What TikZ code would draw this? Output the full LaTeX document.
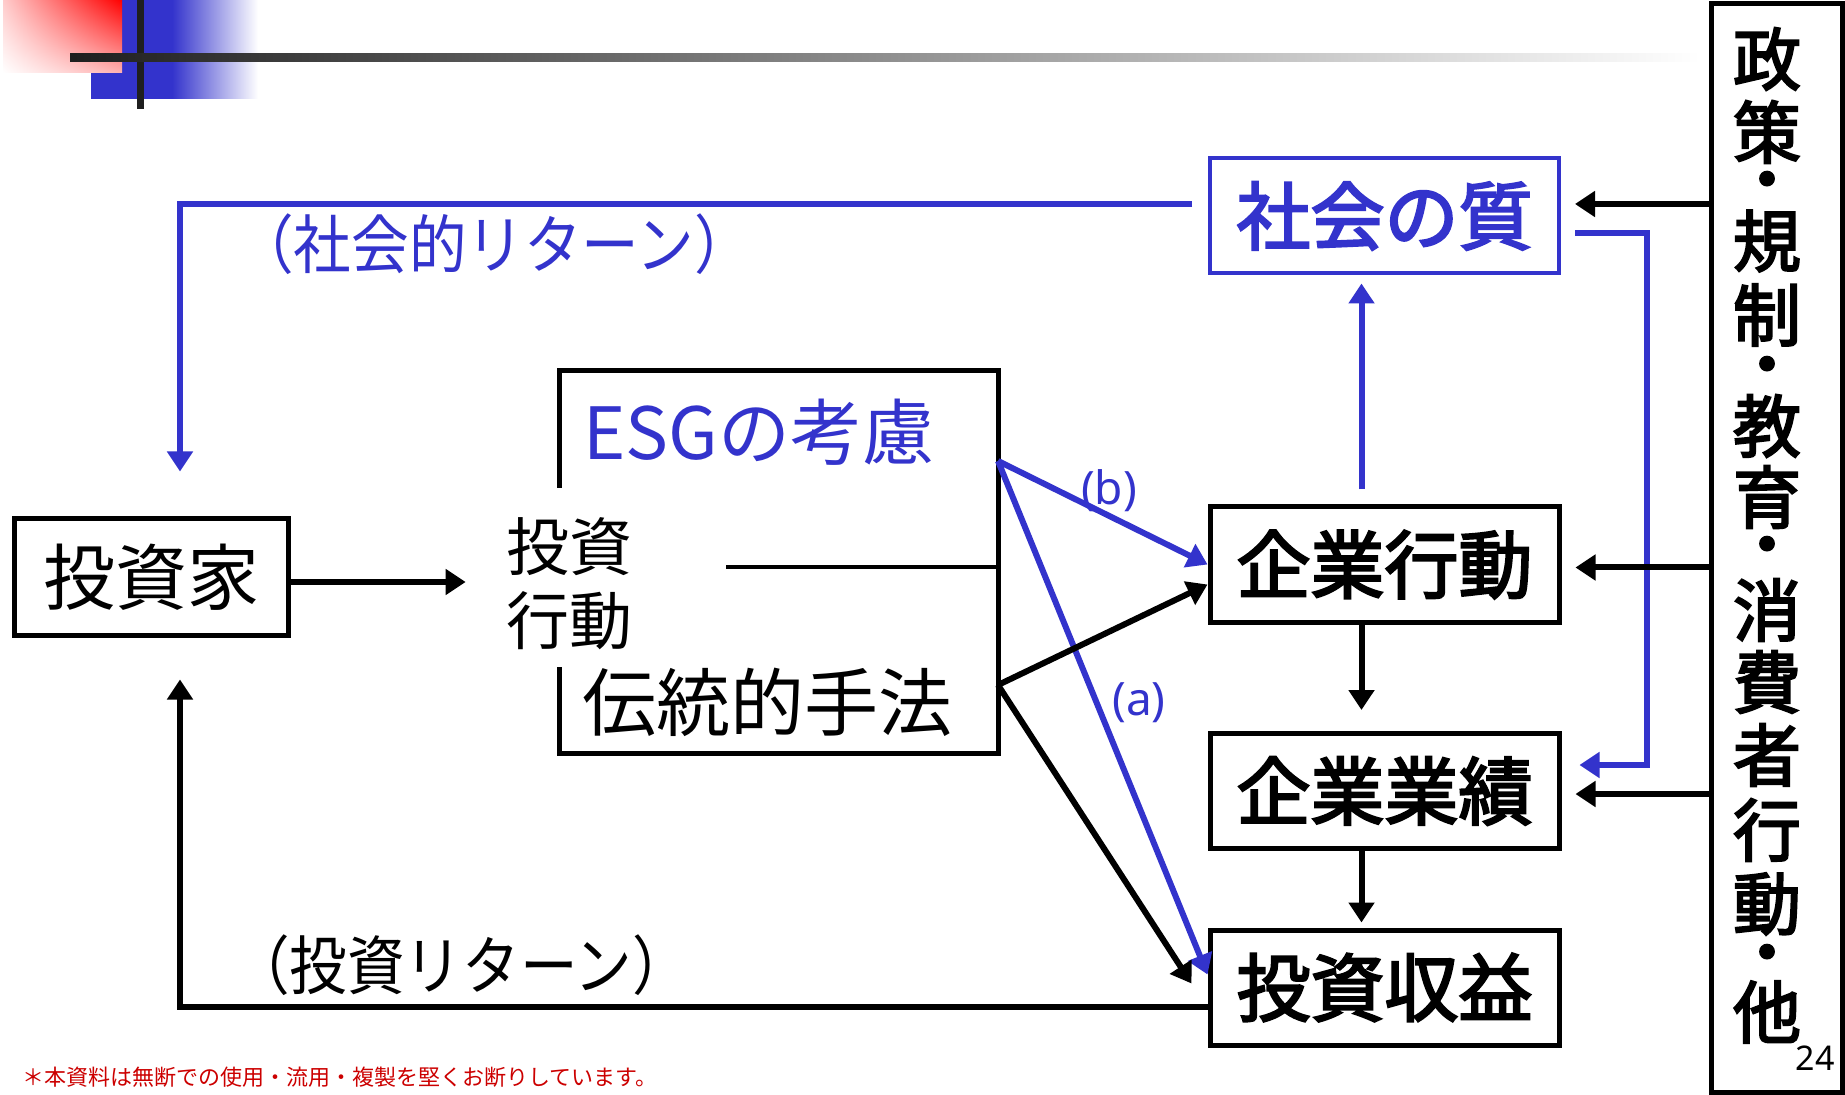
\documentclass[tikz,border=0pt]{standalone}
\usepackage{fontspec}
\usepackage{graphicx}
\setmainfont{Noto Sans CJK JP}
\newfontfamily\jpc[FakeStretch=0.9]{Noto Sans CJK JP}
\newfontfamily\jpb[FakeBold=3]{Noto Sans CJK JP}
\newfontfamily\jpbb[FakeBold=8]{Noto Sans CJK JP}
\newfontfamily\latin{Noto Sans}
\usetikzlibrary{arrows.meta,calc,shadings}
\definecolor{esgblue}{RGB}{51,51,204}
\definecolor{notered}{RGB}{204,0,0}
\begin{document}
\begin{tikzpicture}[x=0.5pt,y=-0.5pt,
  box/.style={draw=black, line width=2.5pt, rectangle, inner sep=0pt,
    minimum width=174.5pt, minimum height=57.5pt,
    font=\jpb\fontsize{37}{40}\selectfont},
  conn/.style={line width=3pt, -{Triangle[length=10pt,width=12.5pt]}},
  kconn/.style={conn, draw=black},
  bconn/.style={conn, draw=esgblue, -{Triangle[length=10pt,width=12.5pt,fill=esgblue]}},
  vchar/.style={inner sep=0pt, font=\jpb\fontsize{34}{34}\selectfont},
  vdot/.style={inner sep=0pt, font=\jpbb\fontsize{27}{27}\selectfont},
  retlbl/.style={inner sep=0pt, font=\jpc\fontsize{32}{34}\selectfont},
  ablbl/.style={inner sep=0pt, text=esgblue, font=\latin\fontsize{23}{25}\selectfont}]
\useasboundingbox (0,0) rectangle (1845,1095);
\fill[white] (0,0) rectangle (1845,1095);

% decoration top-left
\fill[esgblue] (91,0) rectangle (172,99);
\shade[left color=esgblue, right color=white] (172,0) rectangle (258,99);
\shade[upper right=red, upper left=red!20, lower left=white, lower right=red!30] (3,0) rectangle (122,73);
\fill[black!88] (137,0) rectangle (144,109);
\shade[left color=black!88, right color=white] (70,54) rectangle (1700,62);

% boxes
\node[box, minimum width=137pt, minimum height=58pt, font=\fontsize{36}{40}\selectfont] (invb) at (151,577) {投資家};
\node[box, draw=esgblue, line width=2pt, text=esgblue] (sq) at (1384.5,216) {社会の質};
\node[box] (kb) at (1384.5,564.5) {企業行動};
\node[box] (kp) at (1384.5,791) {企業業績};
\node[box] (ir) at (1384.5,987.5) {投資収益};
\node[draw, line width=2.5pt, minimum width=65.5pt, minimum height=544pt, inner sep=0pt] (pol) at (1776.5,548) {};

% vertical text in policy box
\foreach \c/\y [count=\i] in {政/59,策/132,規/241,制/315,教/426,育/497,消/610,費/682,者/755,行/830,動/904,他/1012}
  \node[vchar] (v\i) at (1767,\y) {\c};
\foreach \y [count=\i] in {186,371,551,959}
  \node[vdot] (d\i) at (1767,\y) {・};

% investment action bracket
\draw[line width=2.5pt] (559,488) -- (559,371) -- (998,371) -- (998,753) -- (559,753) -- (559,667);
\draw[line width=2pt] (726,567) -- (998,567);
\node[inner sep=0pt, text=esgblue, font=\fontsize{36}{40}\selectfont] (esg) at (759,432) {ESGの考慮};
\node[inner sep=0pt, font=\fontsize{37}{40}\selectfont] (trad) at (767,702) {伝統的手法};
\node[inner sep=0pt, align=center, font=\fontsize{31.5}{37}\selectfont] (ia) at (569,584) {投資\\行動};
\coordinate (esgout) at (998,461);
\coordinate (tradout) at (998,685);

% investor -> investment action
\draw[kconn, shorten >=20pt] ($(invb.east)+(0,5)$) coordinate (ia0) -- (ia0 -| ia.west);

% returns
\draw[bconn] ($(sq.west)+(-16,-12)$) -| ($(invb.north)+(29,-45)$);
\node[retlbl, text=esgblue] (srl) at (494,244) {（社会的リターン）};
\draw[kconn] ($(ir.west)+(0,19)$) -| ($(invb.south)+(29,42)$);
\node[retlbl] (irl) at (461,965) {（投資リターン）};

% ESG / traditional arrows
\draw[bconn] (esgout) -- (kb.west);
\draw[bconn] (esgout) -- ($(ir.west)+(0,-13)$);
\draw[kconn] (tradout) -- ($(kb.west)+(0,20)$);
\draw[kconn] (tradout) -- ($(ir.west)+(-16,-4)$);
\node[ablbl] (lb) at (1109,491) {(b)};
\node[ablbl] (la) at (1139,703) {(a)};

% right column vertical arrows
\draw[bconn] ($(kb.north)+(-23,-15)$) -- ($(sq.south)+(-23,8)$);
\draw[kconn] ($(kb.south)+(-23,0)$) -- ($(kp.north)+(-23,-21)$);
\draw[kconn] ($(kp.south)+(-23,0)$) -- ($(ir.north)+(-23,-5)$);

% blue loop social quality -> corporate performance
\coordinate (lc) at (1647,765);
\draw[bconn] ($(sq.east)+(14,17)$) -| (lc) -- ($(kp.east)+(18,-26)$);

% policy arrows
\coordinate (t1) at ($(sq.east)+(14,-12)$);
\coordinate (t2) at ($(kb.east)+(14,3)$);
\coordinate (t3) at ($(kp.east)+(14,3)$);
\draw[kconn] (pol.west |- t1) -- (t1);
\draw[kconn] (pol.west |- t2) -- (t2);
\draw[kconn] (pol.west |- t3) -- (t3);

% page number and footnote
\node[inner sep=0pt, font=\latin\fontsize{17}{18}\selectfont] (pg) at (1815,1058) {24};
\node[anchor=west, inner sep=0pt, text=notered, font=\fontsize{11}{12}\selectfont] (fn) at (22,1077) {＊本資料は無断での使用・流用・複製を堅くお断りしています。};
\end{tikzpicture}
\end{document}
